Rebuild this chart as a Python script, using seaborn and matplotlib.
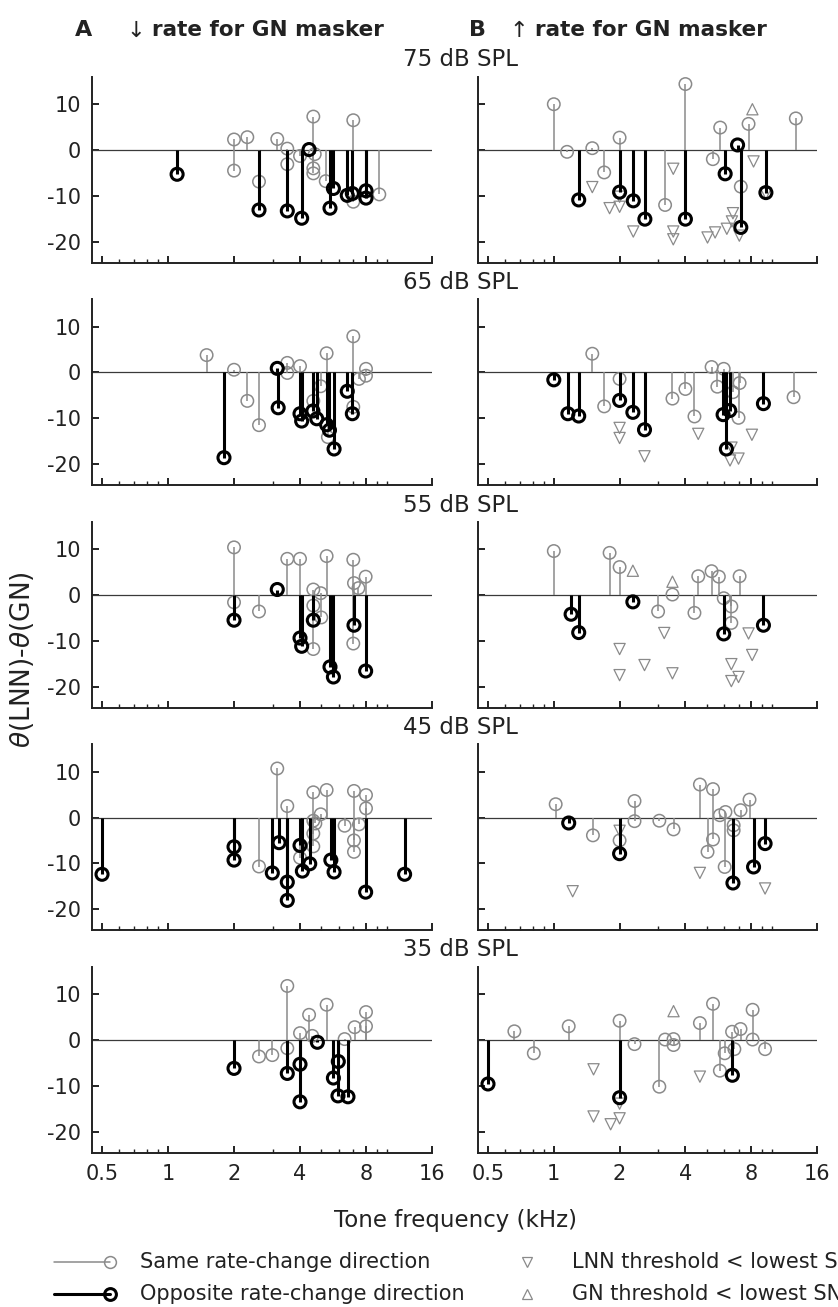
import numpy as np
import pandas as pd
import matplotlib
matplotlib.use("Agg")
import matplotlib.pyplot as plt
from matplotlib.lines import Line2D
from matplotlib.ticker import FixedLocator, FixedFormatter, NullFormatter
import seaborn as sns

# ---------------------------------------------------------------- data
LEVELS = [75, 65, 55, 45, 35]
XTICKS = [0.5, 1, 2, 4, 8, 16]
XTICK_LABELS = ["0.5", "1", "2", "4", "8", "16"]
XMINOR = [0.6, 0.7, 0.8, 0.9, 3, 5, 6, 7, 9, 10]
YTICKS = [-20, -10, 0, 10]
YTICK_LABELS = ["-20", "-10", "0", "10"]

# (tone frequency in kHz, theta(LNN) - theta(GN))
# Column A: rate decreases with the GN masker
a75_same = [(2.0, 2.3), (2.0, -4.5), (2.3, 2.8), (2.6, -6.9), (3.15, 2.4), (3.5, 0.3),
            (3.5, -3.1), (4.0, -1.3), (4.6, 7.3), (4.67, -0.9), (4.6, -4.0), (4.6, -5.1),
            (5.24, -6.8), (7.0, 6.5), (7.0, -11.3), (9.2, -9.7)]
a75_opp = [(1.1, -5.3), (2.6, -13.1), (3.5, -13.3), (4.07, -14.9), (4.4, 0.1), (5.48, -12.7),
           (5.68, -8.4), (6.57, -9.9), (6.93, -9.5), (8.0, -8.9), (8.0, -10.5)]

a65_same = [(1.5, 3.8), (2.0, 0.6), (2.3, -6.2), (2.6, -11.5), (3.5, 2.1), (3.5, -0.1),
            (4.0, 1.4), (4.6, -6.2), (4.97, -3.0), (5.29, 4.2), (5.36, -14.1), (7.0, 7.9),
            (7.0, -7.5), (7.43, -1.4), (8.0, 0.8), (8.0, -0.7)]
a65_opp = [(1.8, -18.6), (3.15, 0.9), (3.18, -7.7), (4.0, -9.0), (4.07, -10.6), (4.58, -8.4),
           (4.77, -10.1), (5.29, -11.4), (5.45, -12.6), (5.72, -16.7), (6.57, -4.1), (6.93, -9.0)]

a55_same = [(2.0, 10.4), (2.0, -1.6), (2.6, -3.6), (3.5, 7.9), (4.0, 7.9), (4.6, 1.2),
            (4.6, -2.3), (4.6, -11.8), (4.97, 0.4), (5.0, -4.9), (5.29, 8.5), (7.0, 7.7),
            (7.05, 2.6), (7.39, 1.5), (7.97, 4.0), (7.0, -10.6)]
a55_opp = [(2.0, -5.5), (3.15, 1.2), (4.0, -9.4), (4.07, -11.2), (4.6, -5.5), (5.48, -15.7),
           (5.68, -17.9), (7.05, -6.6), (7.97, -16.6)]

a45_same = [(2.6, -10.7), (3.15, 10.7), (3.5, 2.5), (4.0, -8.8), (4.6, 5.5), (4.6, -0.7),
            (4.6, -3.5), (4.6, -6.3), (4.7, -1.3), (4.97, 0.7), (5.29, 6.0), (6.39, -1.8),
            (7.05, 5.8), (7.05, -5.0), (7.05, -7.5), (7.43, -1.5), (8.0, 4.9), (8.0, 2.0)]
a45_opp = [(0.5, -12.4), (2.0, -6.4), (2.0, -9.3), (2.99, -12.1), (3.21, -5.5), (3.5, -14.1),
           (3.5, -18.1), (4.0, -6.1), (4.1, -11.7), (4.43, -10.1), (5.53, -9.3), (5.72, -11.9),
           (7.97, -16.3), (12.0, -12.4)]

a35_same = [(2.6, -3.6), (2.99, -3.3), (3.5, 11.8), (3.5, -1.8), (4.0, 1.5), (4.4, 5.5),
            (4.55, 0.9), (5.29, 7.7), (6.39, 0.2), (7.1, 2.8), (8.0, 6.1), (8.0, 3.0)]
a35_opp = [(2.0, -6.2), (3.5, -7.3), (4.0, -5.3), (4.0, -13.5), (4.8, -0.5), (5.68, -8.3),
           (5.98, -4.7), (5.96, -12.2), (6.62, -12.4)]

# Column B: rate increases with the GN masker
b75_same = [(1.0, 10.0), (1.15, -0.4), (1.5, 0.4), (1.7, -4.9), (2.0, 2.7), (3.23, -12.0),
            (4.0, 14.4), (5.34, -2.0), (5.77, 4.9), (7.17, -8.0), (7.78, 5.7), (12.8, 6.9)]
b75_opp = [(1.3, -10.9), (2.0, -9.2), (2.31, -11.1), (2.61, -15.1), (4.0, -15.1), (6.08, -5.2),
           (6.93, 1.1), (7.17, -16.9), (9.34, -9.3)]
b75_lnn = [(1.5, -8.1), (1.8, -12.7), (2.0, -10.2), (2.0, -12.4), (2.31, -17.8), (3.52, -4.1),
           (3.52, -17.8), (3.52, -19.5), (5.05, -19.1), (5.47, -18.0), (6.19, -17.2),
           (6.53, -15.6), (6.6, -13.8), (7.06, -18.7), (8.2, -2.5), (9.34, -9.5)]
b75_gn = [(8.1, 8.9)]

b65_same = [(1.5, 4.1), (1.7, -7.4), (2.0, -1.4), (3.49, -5.7), (4.0, -3.6), (4.4, -9.6),
            (5.27, 1.2), (5.99, 0.8), (5.6, -3.1), (6.6, -4.3), (7.08, -2.3), (7.0, -9.9),
            (12.5, -5.4)]
b65_opp = [(1.0, -1.6), (1.16, -9.0), (1.3, -9.5), (2.0, -6.1), (2.3, -8.7), (2.6, -12.5),
           (5.95, -9.2), (6.38, -8.3), (6.16, -16.7), (9.1, -6.8)]
b65_lnn = [(2.0, -12.1), (2.0, -14.3), (2.6, -18.3), (4.58, -13.4), (6.5, -16.4),
           (6.4, -19.2), (7.0, -18.8), (8.06, -13.6)]
b65_gn = []

b55_same = [(1.0, 9.6), (1.8, 9.2), (2.0, 6.1), (3.0, -3.6), (3.49, 0.1), (4.4, -3.9),
            (4.58, 4.1), (5.27, 5.2), (5.69, 4.0), (5.99, -0.7), (6.49, -2.5), (6.49, -6.1),
            (7.08, 4.1)]
b55_opp = [(1.2, -4.2), (1.3, -8.2), (2.3, -1.5), (5.99, -8.5), (9.1, -6.6)]
b55_lnn = [(2.0, -11.8), (2.0, -17.5), (2.6, -15.3), (3.2, -8.3), (3.49, -17.1),
           (6.49, -15.1), (6.49, -18.8), (7.0, -17.9), (7.78, -8.4), (8.08, -13.1)]
b55_gn = [(2.3, 5.3), (3.49, 2.9)]

b45_same = [(1.02, 2.9), (1.51, -3.9), (2.0, -5.0), (2.34, 3.6), (2.34, -0.8), (3.04, -0.7),
            (3.53, -2.6), (4.66, 7.2), (5.05, -7.5), (5.35, 6.2), (5.35, -4.8), (5.75, 0.5),
            (6.05, -10.8), (6.1, 1.2), (6.65, -1.7), (6.65, -2.8), (7.15, 1.6), (7.86, 3.9)]
b45_opp = [(1.17, -1.2), (2.0, -7.9), (6.6, -14.3), (8.2, -10.8), (9.26, -5.7)]
b45_lnn = [(1.22, -16.1), (2.0, -2.9), (4.66, -12.1), (9.26, -15.5)]
b45_gn = []

b35_same = [(0.66, 1.9), (0.81, -2.9), (1.17, 3.0), (2.0, 4.2), (2.34, -0.9), (3.04, -10.2),
            (3.23, 0.1), (3.53, 0.2), (3.53, -1.1), (4.66, 3.7), (5.35, 7.9), (5.75, -6.7),
            (6.05, -2.9), (6.54, 1.8), (6.7, -2.0), (7.15, 2.4), (8.12, 6.6), (8.12, 0.1),
            (9.26, -2.0)]
b35_opp = [(0.5, -9.6), (2.0, -12.6), (6.56, -7.7)]
b35_lnn = [(1.52, -6.4), (1.52, -16.7), (1.82, -18.4), (2.0, -17.1), (2.0, -13.9), (4.66, -8.0)]
b35_gn = [(3.53, 6.3)]

COLUMN_A = {75: (a75_same, a75_opp, [], []), 65: (a65_same, a65_opp, [], []),
            55: (a55_same, a55_opp, [], []), 45: (a45_same, a45_opp, [], []),
            35: (a35_same, a35_opp, [], [])}
COLUMN_B = {75: (b75_same, b75_opp, b75_lnn, b75_gn), 65: (b65_same, b65_opp, b65_lnn, b65_gn),
            55: (b55_same, b55_opp, b55_lnn, b55_gn), 45: (b45_same, b45_opp, b45_lnn, b45_gn),
            35: (b35_same, b35_opp, b35_lnn, b35_gn)}

# ---------------------------------------------------------------- style
sns.set_style("ticks")
plt.rcParams["font.family"] = ["DejaVu Sans"]
plt.rcParams["xtick.direction"] = "in"
plt.rcParams["ytick.direction"] = "in"
plt.rcParams["axes.linewidth"] = 1.4

GRAY = "#8a8a8a"
BLACK = "#000000"
INK = "#222222"
FS = 15

W, H = 838, 1307
fig = plt.figure(figsize=(W / 100, H / 100), dpi=100)

# panel geometry in pixels
COL_LEFT = [92, 478]
COL_WIDTH = [340, 339]
ZERO0, ROW_STEP = 150, 222.5
PX_PER_UNIT = 4.58
YLIM = (-24.6, 16)
XLIM = (0.45, 16)


def frame(px_left, px_width, px_top, px_height):
    return [px_left / W, 1 - (px_top + px_height) / H, px_width / W, px_height / H]


def to_frame(points):
    return pd.DataFrame(points, columns=["freq", "dtheta"])


def draw_panel(ax, same, opp, lnn, gn):
    ax.axhline(0, color="#3a3a3a", lw=0.9, zorder=1)
    if same:
        df = to_frame(same)
        ax.vlines(df["freq"], 0, df["dtheta"], color=GRAY, lw=1.1, zorder=2)
        sns.scatterplot(data=df, x="freq", y="dtheta", ax=ax, marker="o", s=80,
                        color=GRAY, facecolor="none", edgecolor=GRAY, linewidth=1.1,
                        zorder=3, legend=False)
    for pts, mk in ((lnn, "v"), (gn, "^")):
        if pts:
            sns.scatterplot(data=to_frame(pts), x="freq", y="dtheta", ax=ax, marker=mk,
                            s=65, color=GRAY, facecolor="none", edgecolor=GRAY,
                            linewidth=0.9, zorder=3, legend=False)
    if opp:
        df = to_frame(opp)
        ax.vlines(df["freq"], 0, df["dtheta"], color=BLACK, lw=2.2, zorder=4)
        sns.scatterplot(data=df, x="freq", y="dtheta", ax=ax, marker="o", s=75,
                        color=BLACK, facecolor="none", edgecolor=BLACK, linewidth=2.2,
                        zorder=5, legend=False)


for r, level in enumerate(LEVELS):
    zero_px = ZERO0 + ROW_STEP * r
    top_px = zero_px - YLIM[1] * PX_PER_UNIT
    height_px = (YLIM[1] - YLIM[0]) * PX_PER_UNIT
    for c, column in enumerate((COLUMN_A, COLUMN_B)):
        ax = fig.add_axes(frame(COL_LEFT[c], COL_WIDTH[c], top_px, height_px))
        draw_panel(ax, *column[level])
        ax.set_xscale("log", base=2)
        ax.set_xlim(*XLIM)
        ax.set_ylim(*YLIM)
        ax.xaxis.set_major_locator(FixedLocator(XTICKS))
        ax.xaxis.set_major_formatter(FixedFormatter(XTICK_LABELS))
        ax.xaxis.set_minor_locator(FixedLocator(XMINOR))
        ax.xaxis.set_minor_formatter(NullFormatter())
        ax.set_yticks(YTICKS)
        ax.set_yticklabels(YTICK_LABELS if c == 0 else [])
        ax.tick_params(axis="both", which="major", length=5, width=1.4, labelsize=FS,
                       pad=8, colors=INK, labelcolor=INK)
        ax.tick_params(axis="x", which="minor", length=3, width=1.0, color=INK)
        ax.tick_params(axis="x", labelbottom=(r == len(LEVELS) - 1))
        sns.despine(ax=ax)
        for side in ("left", "bottom"):
            ax.spines[side].set_color(INK)
        ax.set_xlabel("")
        ax.set_ylabel("")
    fig.text(460 / W, 1 - (zero_px - 90) / H, f"{level} dB SPL", ha="center", va="center",
             fontsize=FS + 1.5, color=INK)

# column headings: panel letter, thin arrow, bold caption
for letter, arrow, x_letter, x_arrow, x_caption in (("A", "\u2193", 75, 126, 152),
                                                    ("B", "\u2191", 469, 509, 535)):
    fig.text(x_letter / W, 1 - 30 / H, letter, fontsize=FS + 1, fontweight="bold",
             ha="left", va="center", color=INK)
    fig.text(x_arrow / W, 1 - 31 / H, arrow, fontsize=FS + 1, ha="left", va="center",
             color=INK)
    fig.text(x_caption / W, 1 - 30 / H, "rate for GN masker", fontsize=FS + 0.5,
             fontweight="bold", ha="left", va="center", color=INK)

# axis labels
fig.text(22 / W, 1 - 660 / H, r"$\theta$(LNN)-$\theta$(GN)", rotation=90, ha="center",
         va="center", fontsize=FS + 4, color=INK)
fig.text(455 / W, 1 - 1220 / H, "Tone frequency (kHz)", ha="center", va="center",
         fontsize=FS + 1.5, color=INK)


# key
def key_line(x0, x1, y, color, lw, ms_lw):
    fig.add_artist(Line2D([x0 / W, x1 / W], [1 - y / H] * 2, transform=fig.transFigure,
                          color=color, lw=lw))
    fig.add_artist(Line2D([x1 / W], [1 - y / H], transform=fig.transFigure, marker="o",
                          markersize=8.5, markerfacecolor="none", markeredgecolor=color,
                          markeredgewidth=ms_lw, lw=0))


def key_marker(x, y, mk):
    fig.add_artist(Line2D([x / W], [1 - y / H], transform=fig.transFigure, marker=mk,
                          markersize=7.5, markerfacecolor="none", markeredgecolor=GRAY,
                          markeredgewidth=0.9, lw=0))


key_line(54, 110, 1262, GRAY, 1.1, 1.1)
key_line(54, 110, 1294, BLACK, 2.2, 2.2)
key_marker(527, 1262, "v")
key_marker(527, 1294, "^")
fig.text(140 / W, 1 - 1262 / H, "Same rate-change direction", fontsize=FS, va="center",
         color=INK)
fig.text(140 / W, 1 - 1294 / H, "Opposite rate-change direction", fontsize=FS,
         va="center", color=INK)
fig.text(572 / W, 1 - 1262 / H, "LNN threshold < lowest SNR", fontsize=FS, va="center",
         color=INK)
fig.text(572 / W, 1 - 1294 / H, "GN threshold < lowest SNR", fontsize=FS, va="center",
         color=INK)

fig.savefig("out.png", dpi=100)
